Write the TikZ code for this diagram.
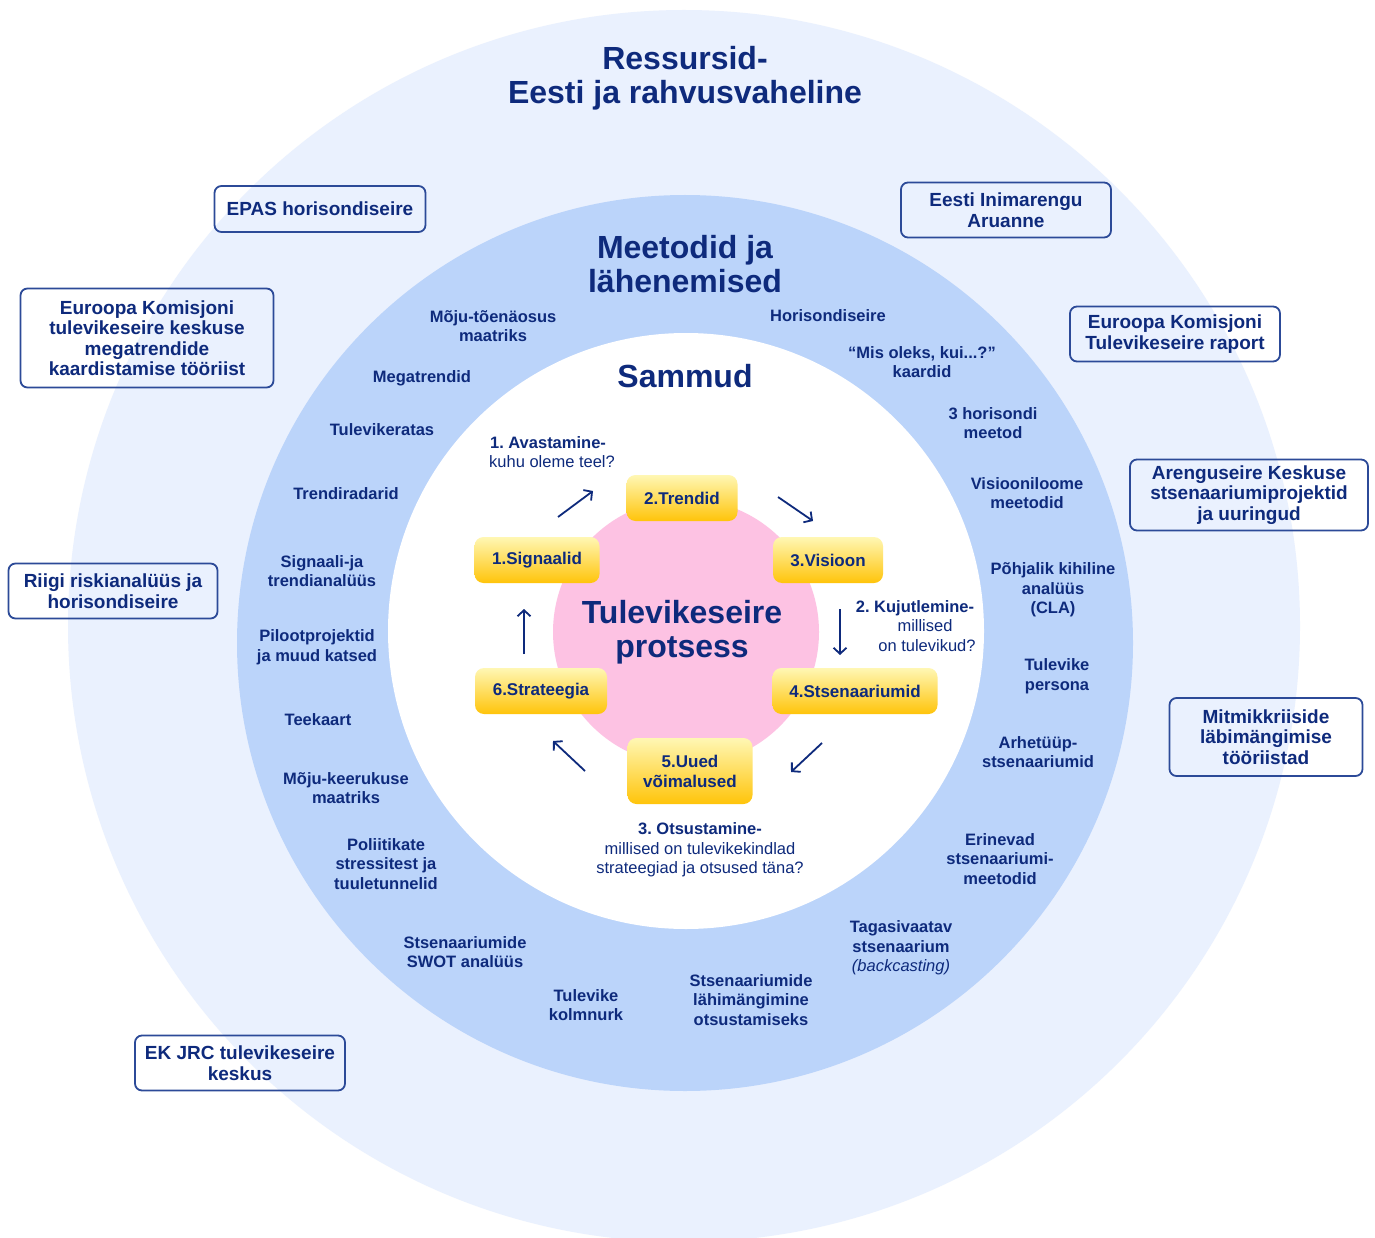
\documentclass[tikz,border=0pt]{standalone}
\usepackage{fontspec}
\setmainfont{Liberation Sans}
\usetikzlibrary{arrows.meta}
\definecolor{navy}{RGB}{14,42,124}
\definecolor{outerc}{RGB}{234,241,254}
\definecolor{midc}{RGB}{187,212,250}
\definecolor{pinkc}{RGB}{253,194,227}
\definecolor{ytop}{RGB}{255,247,180}
\definecolor{ybot}{RGB}{255,196,10}
\definecolor{boxc}{RGB}{44,74,152}
\begin{document}
\begin{tikzpicture}[x=1pt,y=-1pt,
 meth/.style={text=navy, align=center, font=\fontsize{16.5}{19.5}\selectfont\bfseries, inner sep=0pt},
 srcbox/.style={draw=boxc, line width=1.8pt, rounded corners=7pt, align=center, text=navy, font=\fontsize{19}{20.5}\selectfont\bfseries, inner sep=0pt},
 stepbox/.style={rounded corners=9pt, top color=ytop, bottom color=ybot, text=navy, font=\fontsize{17}{20}\selectfont\bfseries, align=center, inner sep=0pt, minimum height=46pt},
 arr/.style={draw=navy, line width=1.8pt, -{Straight Barb[length=6pt,width=13pt]}},
 steplbl/.style={text=navy, align=center, font=\fontsize{16.5}{19.5}\selectfont, inner sep=0pt},
 big/.style={text=navy, align=center, font=\fontsize{32}{34}\selectfont\bfseries, inner sep=0pt}]
\useasboundingbox (0,0) rectangle (1375,1238);
\fill[white] (0,0) rectangle (1375,1238);
% rings
\fill[outerc] (684,626) circle[radius=616pt];
\fill[midc] (685,643) circle[radius=448pt];
\fill[white] (686,631) circle[radius=298pt];
\fill[pinkc] (686,632) circle[radius=133pt];
% titles
\node[big] (tres) at (685,78) {Ressursid-\\Eesti ja rahvusvaheline};
\node[big] (tmet) at (685,264) {Meetodid ja\\lähenemised};
\node[big] (tsam) at (685,376) {Sammud};
\node[big] (tpro) at (682,632) {Tulevikeseire\\protsess};
% step boxes
\node[stepbox, minimum width=111pt] (s2) at (682,498) {2.Trendid};
\node[stepbox, minimum width=125pt] (s1) at (537,560) {1.Signaalid};
\node[stepbox, minimum width=110pt] (s3) at (828,560) {3.Visioon};
\node[stepbox, minimum width=132pt] (s6) at (541,691) {6.Strateegia};
\node[stepbox, minimum width=165pt] (s4) at (855,691) {4.Stsenaariumid};
\node[stepbox, minimum width=125pt, minimum height=66pt] (s5) at (690,771) {5.Uued\\võimalused};
% arrows
\coordinate (a1s) at (558,517); \coordinate (a1e) at (593,491);
\coordinate (a2s) at (778,497); \coordinate (a2e) at (813,521);
\coordinate (a3s) at (840,609); \coordinate (a3e) at (840,655);
\coordinate (a4s) at (822,743); \coordinate (a4e) at (791,772);
\coordinate (a5s) at (585,771); \coordinate (a5e) at (553,741);
\coordinate (a6s) at (524,654); \coordinate (a6e) at (524,609);
\draw[arr] (a1s) -- (a1e);
\draw[arr] (a2s) -- (a2e);
\draw[arr] (a3s) -- (a3e);
\draw[arr] (a4s) -- (a4e);
\draw[arr] (a5s) -- (a5e);
\draw[arr] (a6s) -- (a6e);
% step labels
\node[steplbl] (l1) at (548,452) {\bfseries 1.\ Avastamine-\\\hspace*{8pt}kuhu oleme teel?};
\node[steplbl] (l2) at (915,626) {\bfseries 2.\ Kujutlemine-\\\hspace*{20pt}millised\\\hspace*{24pt}on tulevikud?};
\node[steplbl] (l3) at (700,850) {\bfseries 3.\ Otsustamine-\\millised on tulevikekindlad\\strateegiad ja otsused täna?};
% methods
\node[meth] (m1) at (493,326) {Mõju-tõenäosus\\maatriks};
\node[meth] (m2) at (828,316) {Horisondiseire};
\node[meth] (m3) at (422,378) {Megatrendid};
\node[meth] (m4) at (922,362) {“Mis oleks, kui...?”\\kaardid};
\node[meth] (m5) at (382,430) {Tulevikeratas};
\node[meth] (m6) at (993,423) {3 horisondi\\meetod};
\node[meth] (m7) at (346,494) {Trendiradarid};
\node[meth] (m8) at (1027,493) {Visiooniloome\\meetodid};
\node[meth] (m9) at (322,571) {Signaali-ja\\trendianalüüs};
\node[meth] (m10) at (1053,590) {Põhjalik kihiline\\analüüs\\(CLA)};
\node[meth] (m11) at (317,647) {Pilootprojektid\\ja muud katsed};
\node[meth] (m12) at (1057,676) {Tulevike\\persona};
\node[meth] (m13) at (318,720) {Teekaart};
\node[meth] (m14) at (1038,752) {Arhetüüp-\\stsenaariumid};
\node[meth] (m15) at (346,788) {Mõju-keerukuse\\maatriks};
\node[meth] (m16) at (1000,859) {Erinevad\\stsenaariumi-\\meetodid};
\node[meth] (m17) at (386,864) {Poliitikate\\stressitest ja\\tuuletunnelid};
\node[meth] (m18) at (901,948) {Tagasivaatav\\stsenaarium\\{\mdseries\itshape (backcasting)}};
\node[meth] (m19) at (465,952) {Stsenaariumide\\SWOT analüüs};
\node[meth] (m20) at (586,1005) {Tulevike\\kolmnurk};
\node[meth] (m21) at (751,1000) {Stsenaariumide\\lähimängimine\\otsustamiseks};
% resource boxes
\node[srcbox, minimum width=211pt, minimum height=46pt] (r1) at (320,209) {EPAS horisondiseire};
\node[srcbox, minimum width=253pt, minimum height=99pt] (r2) at (147,338) {Euroopa Komisjoni\\tulevikeseire keskuse\\megatrendide\\kaardistamise tööriist};
\node[srcbox, minimum width=209pt, minimum height=55pt] (r3) at (113,591) {Riigi riskianalüüs ja\\horisondiseire};
\node[srcbox, minimum width=210pt, minimum height=55pt] (r4) at (240,1063) {EK JRC tulevikeseire\\keskus};
\node[srcbox, minimum width=210pt, minimum height=55pt] (r5) at (1006,210) {Eesti Inimarengu\\Aruanne};
\node[srcbox, minimum width=210pt, minimum height=55pt] (r6) at (1175,334) {Euroopa Komisjoni\\Tulevikeseire raport};
\node[srcbox, minimum width=238pt, minimum height=71pt] (r7) at (1249,495) {Arenguseire Keskuse\\stsenaariumiprojektid\\ja uuringud};
\node[srcbox, minimum width=193pt, minimum height=78pt] (r8) at (1266,737) {Mitmikkriiside\\läbimängimise\\tööriistad};
\end{tikzpicture}
\end{document}
